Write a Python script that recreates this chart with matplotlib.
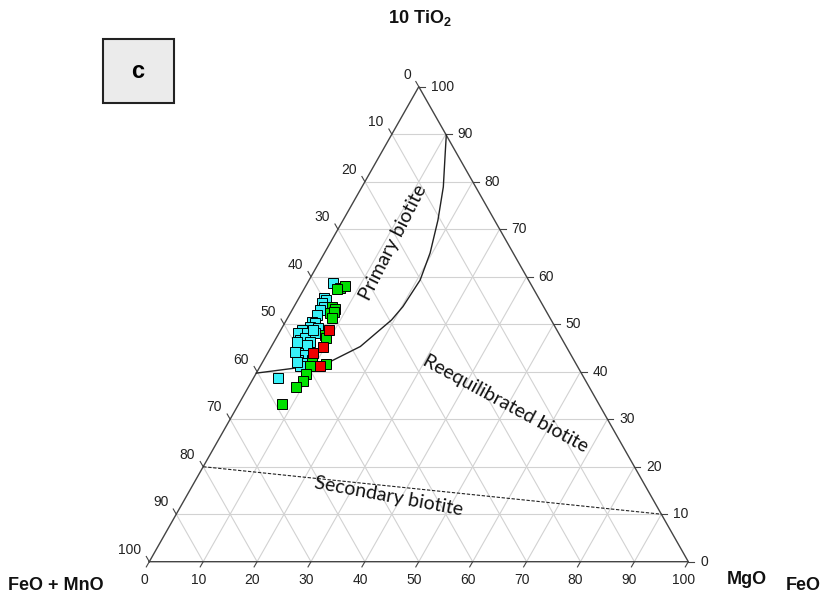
import matplotlib
matplotlib.use("Agg")
import matplotlib.pyplot as plt
from matplotlib.patches import Rectangle
import numpy as np

plt.rcParams["mathtext.fontset"] = "custom"
plt.rcParams["mathtext.rm"] = "Liberation Sans:bold"
plt.rcParams["mathtext.bf"] = "Liberation Sans:bold"

# ternary compositions in % (TiO2*10, MgO); FeO+MnO = 100 - both
CYAN_T = [58.7, 55.5, 55.1, 54.5, 53.7, 53.0, 51.9, 50.5, 50.2, 49.5, 49.1, 48.8, 48.1, 48.1,
          48.1, 46.7, 47.0, 46.3, 45.3, 45.3, 45.6, 43.9, 43.5, 42.5, 41.8, 41.1, 38.6, 44.2,
          42.1, 48.8, 46.3]
CYAN_M = [4.7, 4.6, 5.2, 4.7, 5.6, 5.2, 5.1, 4.9, 5.6, 5.1, 6.8, 3.9, 3.6, 5.2,
          6.7, 4.6, 5.4, 6.7, 4.7, 5.6, 6.4, 5.7, 6.8, 6.4, 7.4, 7.4, 4.6, 4.9,
          6.3, 6.0, 4.2]
GREEN_T = [57.6, 58.0, 57.4, 53.7, 53.3, 52.3, 52.6, 51.3, 47.7, 47.0, 42.5, 41.1, 41.6,
           39.5, 38.1, 36.8, 33.1]
GREEN_M = [6.6, 7.3, 6.1, 7.0, 7.8, 7.4, 8.0, 8.2, 8.7, 9.3, 8.9, 9.3, 12.0,
           9.4, 9.5, 8.9, 8.0]
RED_T = [48.8, 45.1, 43.9, 41.1]
RED_M = [9.0, 9.6, 8.4, 11.1]

# boundary between primary and reequilibrated biotite
PRIMARY_T = [39.7, 40.7, 41.8, 45.3, 50.9, 53.7, 59.3, 65.0, 71.9, 78.9, 86.0, 89.8]
PRIMARY_M = [0.0, 6.3, 12.1, 16.5, 19.5, 20.2, 20.6, 19.6, 17.6, 15.1, 11.9, 10.2]
# boundary between reequilibrated and secondary biotite
SECONDARY_T = [20.0, 10.0]
SECONDARY_M = [0.0, 90.0]

TICKS = list(range(0, 101, 10))

# triangle placement (pixels)
LEFT = (149.3, 561.7)
RIGHT = (688.3, 561.7)
TOP_Y = 86.7
W = RIGHT[0] - LEFT[0]
H = LEFT[1] - TOP_Y


def to_xy(t, m):
    t = np.asarray(t, float) / 100
    m = np.asarray(m, float) / 100
    return LEFT[0] + W * (m + t / 2), LEFT[1] - H * t


fig = plt.figure(figsize=(8.26, 5.98), dpi=100)
ax = fig.add_axes([0, 0, 1, 1])
ax.set_xlim(0, 826)
ax.set_ylim(598, 0)
ax.axis("off")

grid_kw = dict(color="#d2d2d2", lw=0.8, zorder=1)
for k in range(10, 100, 10):
    ax.plot(*to_xy([k, k], [0, 100 - k]), **grid_kw)
    ax.plot(*to_xy([0, 100 - k], [k, k]), **grid_kw)
    ax.plot(*to_xy([0, 100 - k], [100 - k, 0]), **grid_kw)

ax.plot(*to_xy([0, 0, 100, 0], [0, 100, 0, 0]), color="#444444", lw=1.0, zorder=2)

tick_font = dict(family="Liberation Sans", fontsize=10, color="#222222")
for v in TICKS:
    # right edge: TiO2
    x, y = to_xy(v, 100 - v)
    ax.plot([x, x + 6], [y, y], color="#444444", lw=0.8)
    ax.text(x + 12, y, str(v), ha="left", va="center", **tick_font)
    # left edge: FeO + MnO
    x, y = to_xy(100 - v, 0)
    ax.plot([x, x - 3], [y, y - 5.2], color="#444444", lw=0.8)
    ax.text(x - 8, y - 12, str(v), ha="right", va="center", **tick_font)
    # bottom edge: MgO
    x, y = to_xy(0, v)
    ax.plot([x, x - 3], [y, y + 5.2], color="#444444", lw=0.8)
    ax.text(x - 5, y + 18, str(v), ha="center", va="center", **tick_font)

ax.plot(*to_xy(PRIMARY_T, PRIMARY_M), color="#222222", lw=1.0, zorder=3)
ax.plot(*to_xy(SECONDARY_T, SECONDARY_M), color="#222222", lw=0.8,
        dashes=(3, 1.5), zorder=3)

mk = dict(marker="s", ms=6.5, mec="black", mew=0.7, ls="none", zorder=4)
ax.plot(*to_xy(CYAN_T, CYAN_M), mfc="#38f0f8", **mk)
ax.plot(*to_xy(GREEN_T, GREEN_M), mfc="#00e000", **mk)
ax.plot(*to_xy(RED_T, RED_M), mfc="#ee0000", **mk)

field_font = dict(family="Lato", fontsize=14, color="#111111",
                  ha="center", va="center", rotation_mode="anchor")
ax.text(393, 243, "Primary biotite", rotation=63, **field_font)
ax.text(505, 404, "Reequilibrated biotite", rotation=-28.5, **field_font)
ax.text(389, 496, "Secondary biotite", rotation=-10.5, **field_font)

lab_font = dict(family="Liberation Sans", fontweight="bold", fontsize=13, color="#111111")
ax.text(420, 18, r"10 TiO$_{2}$", ha="center", va="center", **lab_font)
ax.text(8, 586, "FeO + MnO", ha="left", va="center", **lab_font)
ax.text(727, 579, "MgO", ha="left", va="center", **lab_font)
ax.text(786, 585, "FeO", ha="left", va="center", **lab_font)

ax.add_patch(Rectangle((102.5, 38.5), 71, 64, facecolor="#ebebeb",
                       edgecolor="#222222", lw=1.5, zorder=5))
ax.text(138, 71, "c", ha="center", va="center", fontsize=17,
        fontweight="bold", family="Liberation Sans", zorder=6)

fig.savefig("out.png", dpi=100)
